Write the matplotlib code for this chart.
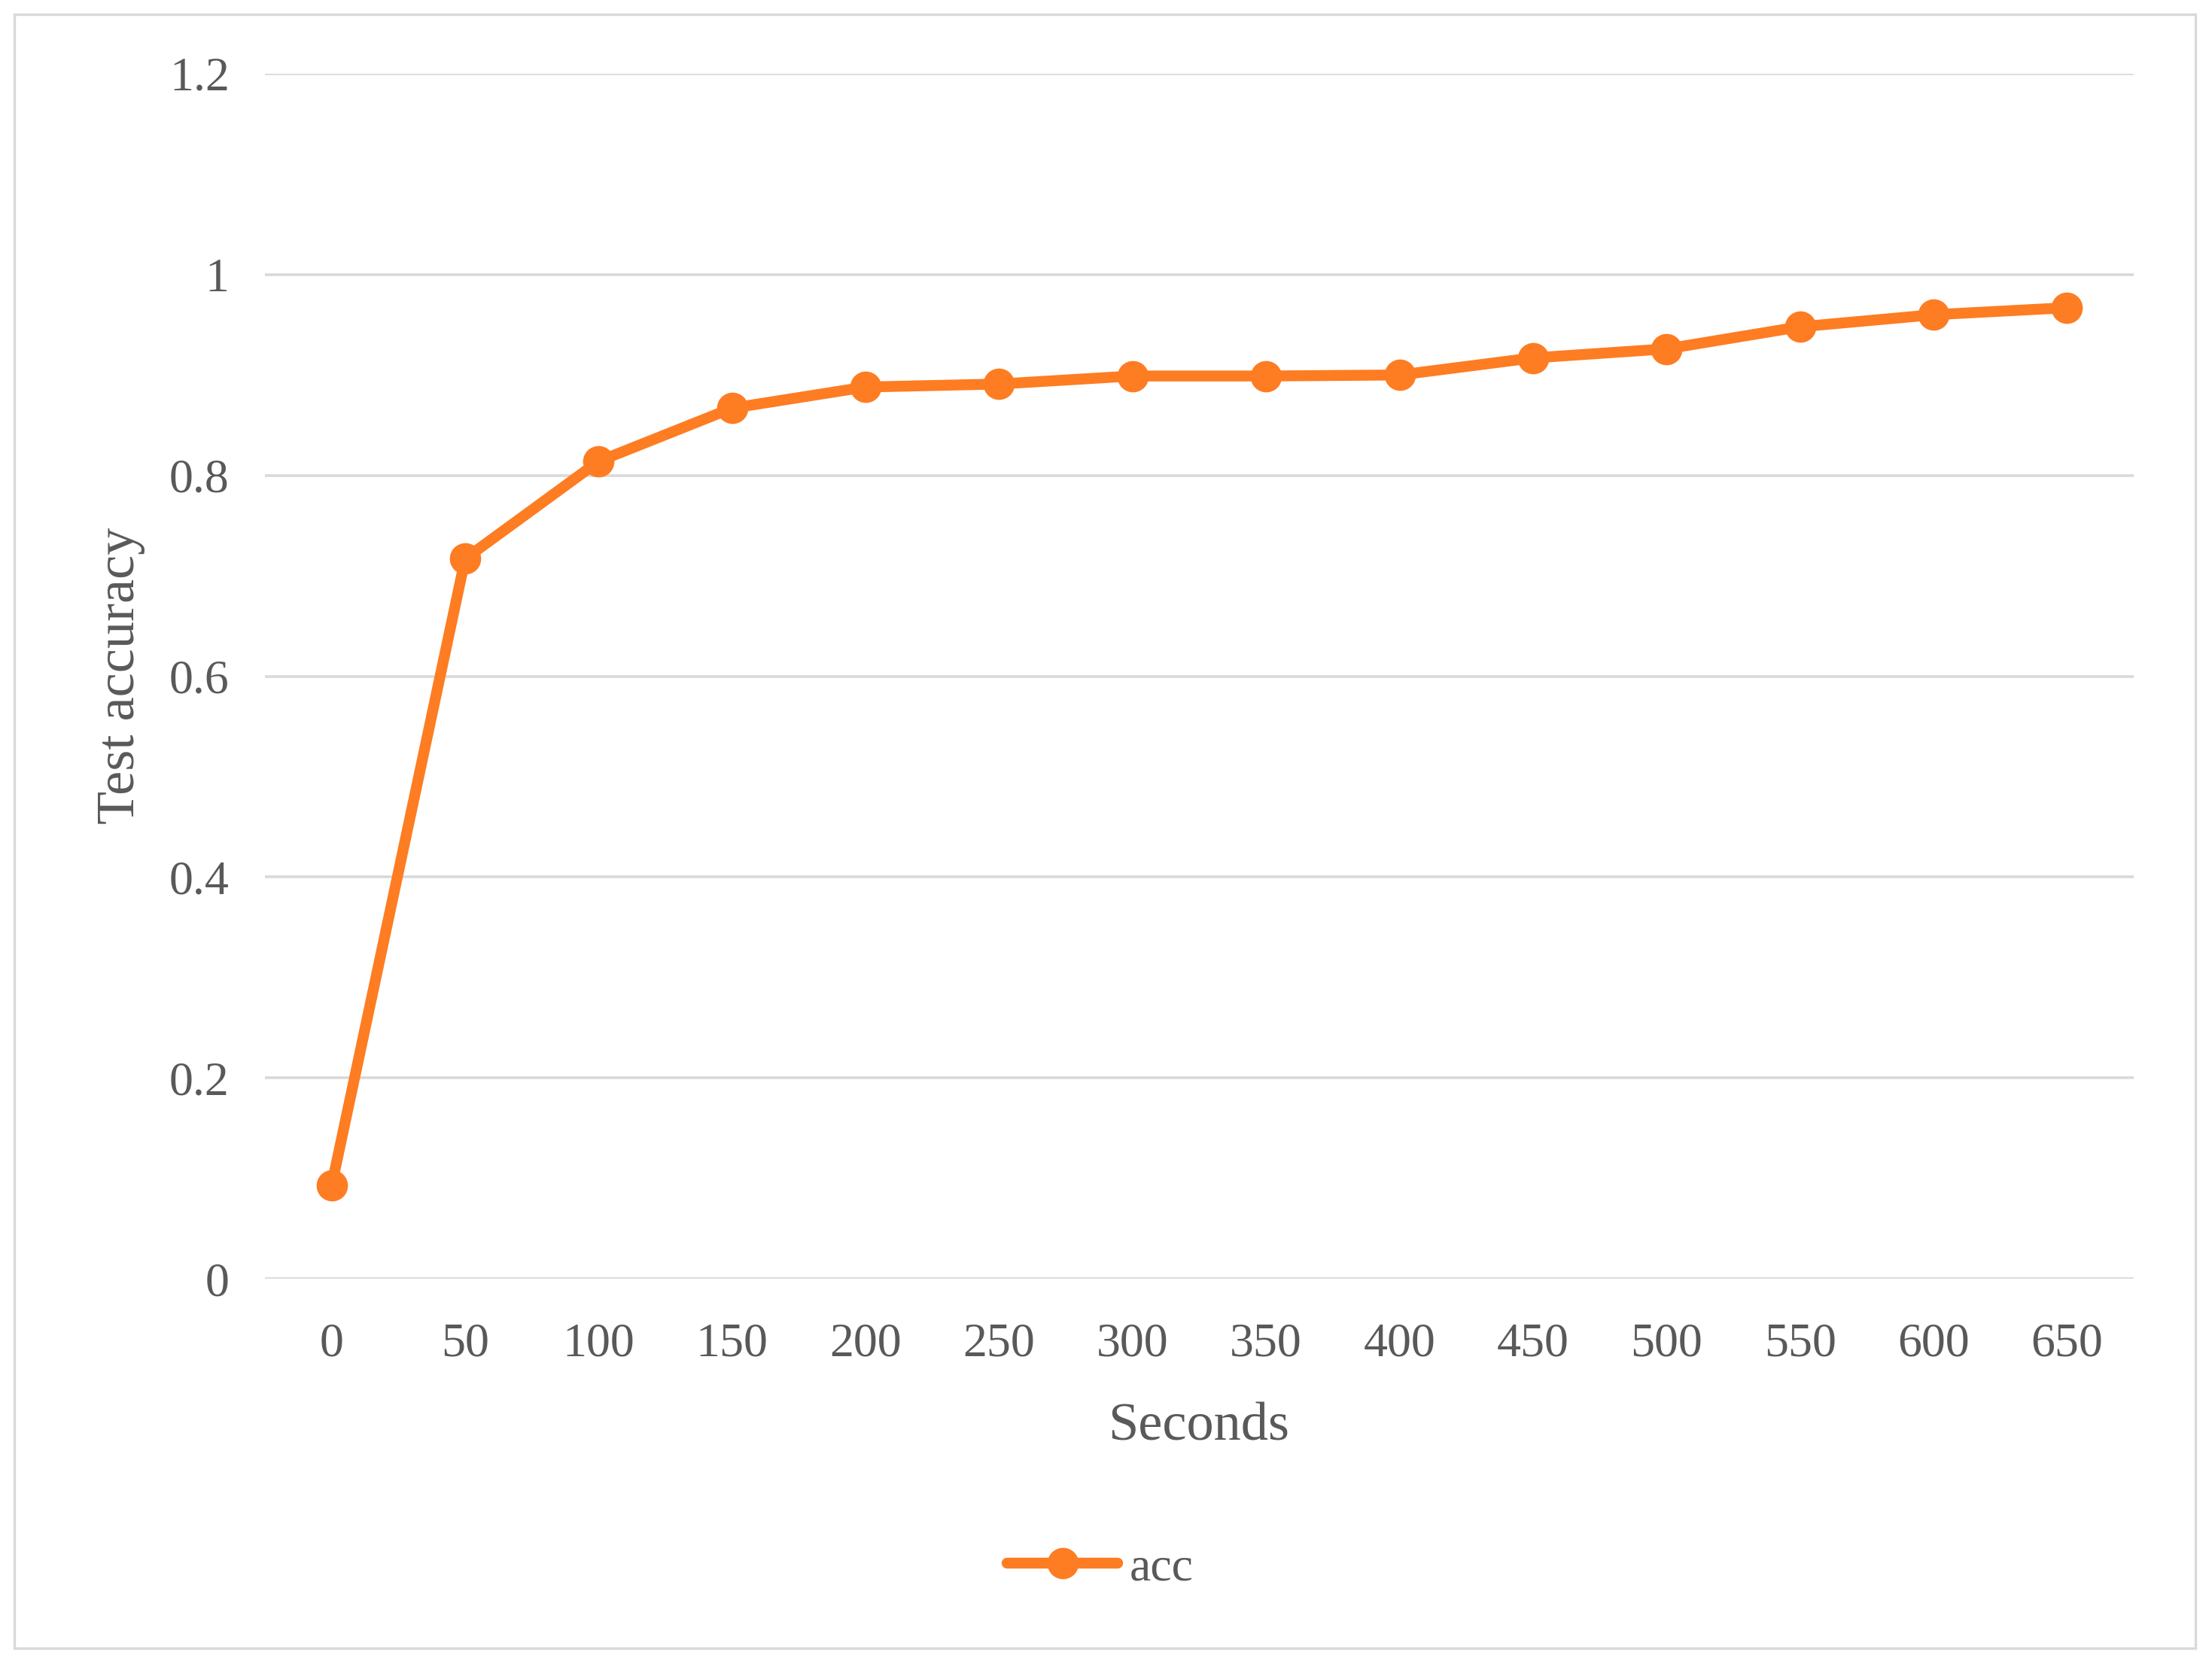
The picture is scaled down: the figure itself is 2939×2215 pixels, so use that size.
import matplotlib
matplotlib.use("Agg")
import matplotlib.pyplot as plt
from matplotlib.patches import Rectangle

seconds = ["0", "50", "100", "150", "200", "250", "300", "350", "400", "450", "500", "550", "600", "650"]
acc = [0.093, 0.717, 0.814, 0.867, 0.888, 0.891, 0.899, 0.899, 0.900, 0.917, 0.926, 0.948, 0.960, 0.967]
yticks = [0, 0.2, 0.4, 0.6, 0.8, 1.0, 1.2]
ytick_labels = ["0", "0.2", "0.4", "0.6", "0.8", "1", "1.2"]

W, H, DPI = 2939, 2215, 200
plt.rcParams['font.family'] = ['Liberation Serif', 'DejaVu Serif']
txt = '#595959'
orange = '#FE7C22'
grid = '#D9D9D9'

fig = plt.figure(figsize=(W / DPI, H / DPI), dpi=DPI)
fig.patch.set_facecolor('white')

# outer chart border
fig.patches.append(Rectangle((19 / W, 1 - 2190 / H), (2917 - 19) / W, (2190 - 19) / H,
                             transform=fig.transFigure, fill=False, edgecolor=grid, linewidth=1.2))

left, right, top, bottom = 352, 2835, 98, 1699
ax = fig.add_axes([left / W, 1 - bottom / H, (right - left) / W, (bottom - top) / H])
x = list(range(len(seconds)))
line, = ax.plot(x, acc, color=orange, linewidth=5.2, marker='o', markersize=14,
                markerfacecolor=orange, markeredgecolor=orange, solid_capstyle='round', zorder=3,
                label='acc')
ax.set_xlim(-0.5, len(seconds) - 0.5)
ax.set_ylim(0, 1.2)
ax.set_xticks(x)
ax.set_xticklabels(seconds)
ax.set_yticks(yticks)
ax.set_yticklabels(ytick_labels)
ax.tick_params(axis='both', length=0, labelsize=23, labelcolor=txt)
ax.tick_params(axis='y', pad=17)
ax.tick_params(axis='x', pad=21)
for s in ax.spines.values():
    s.set_visible(False)
ax.grid(axis='y', color=grid, linewidth=1.3, zorder=0)
ax.set_axisbelow(True)

fig.text(1593 / W, 1 - 1914 / H, 'Seconds', ha='center', va='baseline', fontsize=26, color=txt)
fig.text(178 / W, 1 - 898 / H, 'Test accuracy', ha='center', va='baseline', rotation=90,
         fontsize=26, color=txt, rotation_mode='anchor')

leg = fig.legend(handles=[line], loc='center', bbox_to_anchor=(1462 / W, 1 - 2084 / H),
                 frameon=False, fontsize=23, handlelength=2.3, handletextpad=0.25,
                 labelcolor=txt)

fig.savefig('out.png', dpi=DPI, facecolor='white')
